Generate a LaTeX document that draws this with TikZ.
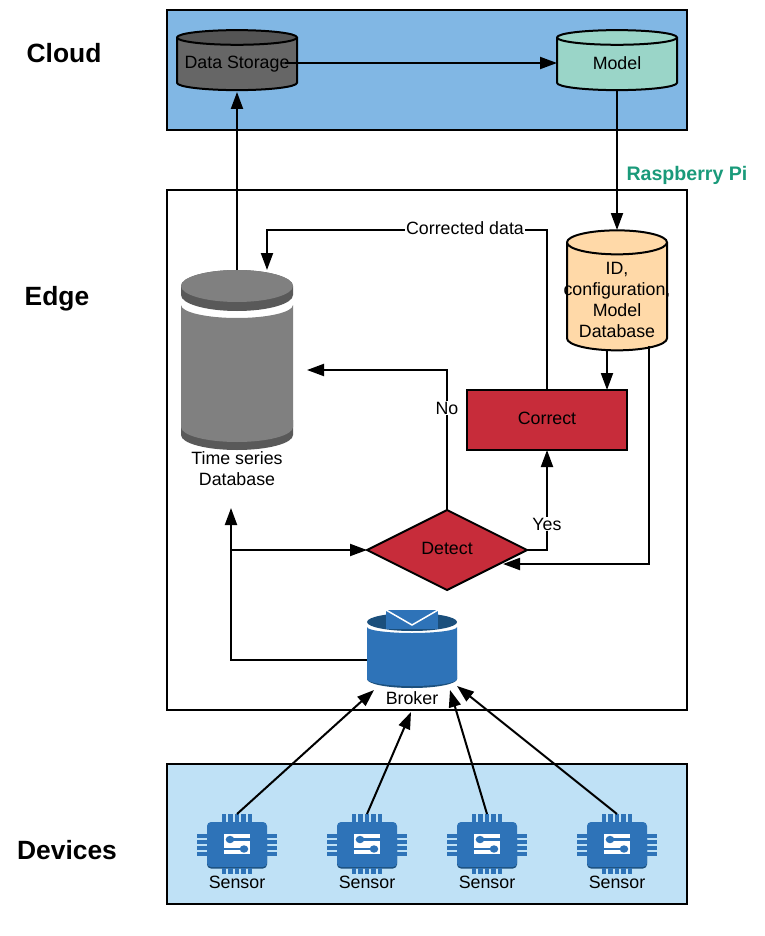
\documentclass[tikz,border=0pt]{standalone}
\usepackage{fontspec}
\setmainfont{Liberation Sans}
\usetikzlibrary{arrows.meta,shapes.geometric}
\definecolor{cloudblue}{HTML}{81B7E4}
\definecolor{deviceblue}{HTML}{BFE1F6}
\definecolor{brokerblue}{HTML}{2E73B8}
\definecolor{brokerdark}{HTML}{1B4F7C}
\definecolor{dbred}{HTML}{C72C3A}
\definecolor{modelgreen}{HTML}{9AD5C8}
\definecolor{idorange}{HTML}{FFD9A8}
\definecolor{pigreen}{HTML}{1A9A7A}

\begin{document}
\begin{tikzpicture}[
  x=1pt, y=-1pt,
  >={Triangle[length=17pt,width=12pt]},
  font=\fontsize{17.8}{20}\selectfont,
  layer/.style={draw, line width=2pt, minimum height=0pt, anchor=center, outer sep=0pt},
  tier/.style={font=\fontsize{26.4}{30}\selectfont\bfseries},
  cyl/.style={draw, line width=2pt, cylinder, shape border rotate=90, aspect=2.2, outer sep=0pt, cylinder uses custom fill, align=center},
  block/.style={draw, line width=2pt, fill=dbred, outer sep=0pt, text depth=4pt},
  arrow/.style={->, line width=2pt},
  lbl/.style={fill=white, inner sep=1pt},
  anchorbox/.style={inner sep=0pt, outer sep=0pt},
  chip/.pic={
    \fill[brokerdark, rounded corners=4pt] (-30,-10) rectangle (30,23.5);
    \fill[brokerblue, rounded corners=4pt] (-30,-23) rectangle (30,22);
    \foreach \d in {-13,-6.5,0,6.5,13} {
      \fill[brokerblue] (\d-2.2,-31) rectangle (\d+2.2,-23);
      \fill[brokerblue] (\d-2.2,23) rectangle (\d+2.2,29);
    }
    \foreach \d in {-9,-3,3,9} {
      \fill[brokerblue] (-40,\d-1.9) rectangle (-30,\d+1.9);
      \fill[brokerblue] (30,\d-1.9) rectangle (40,\d+1.9);
    }
    \fill[white] (-13,-11) rectangle (13,9);
    \draw[brokerblue, line width=2.2pt] (-7,-5.5) -- (13,-5.5);
    \draw[brokerblue, line width=2.2pt] (-13,4) -- (7,4);
    \fill[brokerblue] (-7,-5.5) ellipse [x radius=4.3,y radius=3.7];
    \fill[brokerblue] (7,4) ellipse [x radius=4.3,y radius=3.7];
  }
]
\useasboundingbox (0,0) rectangle (764,936);

% Layers
\draw[layer, fill=cloudblue] (167,10) rectangle (687,130);
\draw[layer, fill=white] (167,190) rectangle (687,710);
\draw[layer, fill=deviceblue] (167,764) rectangle (687,904);

\node[tier] (cloud) at (64,53) {Cloud};
\node[tier] (edge) at (57,299) {Edge};
\node[tier] (devices) at (67,850) {Devices};
\node[font=\fontsize{19.6}{24}\selectfont\bfseries, text=pigreen] (pi) at (687,175) {Raspberry Pi};

% Cloud
\node[cyl, cylinder body fill=black!60, cylinder end fill=black!67, minimum width=120pt, minimum height=60pt] (storage) at (237,65.5) {};
\node (storagetxt) at (237,64.5) {Data Storage};
\node[cyl, cylinder body fill=modelgreen, cylinder end fill=modelgreen, minimum width=120pt, minimum height=60pt] (model) at (617,65.5) {};
\node (modeltxt) at (617,63) {Model};

% Edge
\node[cyl, aspect=3.6, cylinder body fill=idorange, cylinder end fill=idorange, minimum width=100pt, minimum height=120pt] (config) at (617,299) {};
\node[align=center] (configtxt) at (617,300) {ID,\\[1pt]configuration,\\[1pt]Model\\[1pt]Database};

% Time series database
\fill[black!65] (181,435) arc[start angle=180,end angle=0,x radius=56,y radius=15] -- (293,420) -- (181,420) -- cycle;
\fill[black!50] (181,305) arc[start angle=180,end angle=0,x radius=56,y radius=13] -- (293,427) arc[start angle=0,end angle=180,x radius=56,y radius=15] -- cycle;
\fill[black!65] (181,286) arc[start angle=180,end angle=360,x radius=56,y radius=16] -- (293,295) arc[start angle=0,end angle=180,x radius=56,y radius=16] -- cycle;
\fill[black!50] (237,286) ellipse [x radius=56,y radius=16];
\node[anchorbox, minimum width=112pt, minimum height=180pt] (tsdb) at (237,360) {};
\node[align=center] (tsdbtxt) at (237,469) {Time series\\[1pt]Database};

\node[block, minimum width=160pt, minimum height=60pt] (correct) at (547,420) {Correct};
\node[block, diamond, aspect=2, inner sep=0pt, minimum width=160pt, minimum height=80pt] (detect) at (447,550) {Detect};

% Broker
\fill[brokerdark] (367,679) arc[start angle=180,end angle=0,x radius=45,y radius=9] -- (457,670) -- (367,670) -- cycle;
\fill[brokerblue] (367,627) arc[start angle=180,end angle=0,x radius=45,y radius=6] -- (457,679) arc[start angle=0,end angle=180,x radius=45,y radius=7] -- cycle;
\fill[brokerdark] (412,622) ellipse [x radius=45,y radius=9];
\fill[brokerblue] (386,610) rectangle (438,629);
\draw[white, line width=1.5pt] (386,610) -- (412,625) -- (438,610);
\node[anchorbox, minimum width=90pt, minimum height=75pt] (broker) at (412,651) {};
\node[lbl] (brokertxt) at (412,698) {Broker};

% Devices
\foreach \n/\xx in {1/237,2/367,3/487,4/617} {
  \pic at (\xx,845) {chip};
  \node[anchorbox, minimum width=60pt, minimum height=62pt] (sensor\n) at (\xx,845) {};
  \node (sensortxt\n) at (\xx,882) {Sensor};
}

% Waypoints
\coordinate (brokerleft) at (367,660);
\coordinate (tsdbin) at (231,508);
\coordinate (tsdbno) at (307,370);
\coordinate (feedback) at (267,270);
\coordinate (feedbackbend) at (267,230);
\coordinate (configout) at (649,346);
\coordinate (detectin) at (503,564);
\coordinate (detectbranch) at (231,550);
\coordinate (configin) at (617,230);
\coordinate (correctin) at (607,390);
\coordinate (configbottom) at (607,349);
\coordinate (storagein) at (237,92);
\coordinate (tsdbout) at (237,270);
\coordinate (storageout) at (285,63);
\coordinate (modelin) at (557,63);
\coordinate (modelout) at (617,90);
\coordinate (brokerina) at (374,690);
\coordinate (brokerinb) at (411,712);
\coordinate (brokerinc) at (450,690);
\coordinate (brokerind) at (457,686);

% Connectors
\draw[arrow] (tsdbout) -- (storagein);
\draw[arrow] (storageout) -- (modelin);
\draw[arrow] (modelout) -- (configin);
\draw[arrow] (configbottom) -- (correctin);
\draw[arrow] (correct.north) |- (feedbackbend) -- (feedback);
\draw[arrow] (detect.north) |- (tsdbno);
\draw[arrow] (detect.east) -| (correct.south);
\draw[arrow] (configout) |- (detectin);
\draw[arrow] (brokerleft) -| (tsdbin);
\draw[arrow] (detectbranch) -- (detect.west);

\draw[arrow] (sensor1.north) -- (brokerina);
\draw[arrow] (sensor2.north) -- (brokerinb);
\draw[arrow] (sensor3.north) -- (brokerinc);
\draw[arrow] (sensor4.north) -- (brokerind);

% Labels
\node[lbl] (corrected) at (465,228) {Corrected data};
\node[lbl] (no) at (447,408) {No};
\node[lbl] (yes) at (547,524) {Yes};
\end{tikzpicture}
\end{document}
